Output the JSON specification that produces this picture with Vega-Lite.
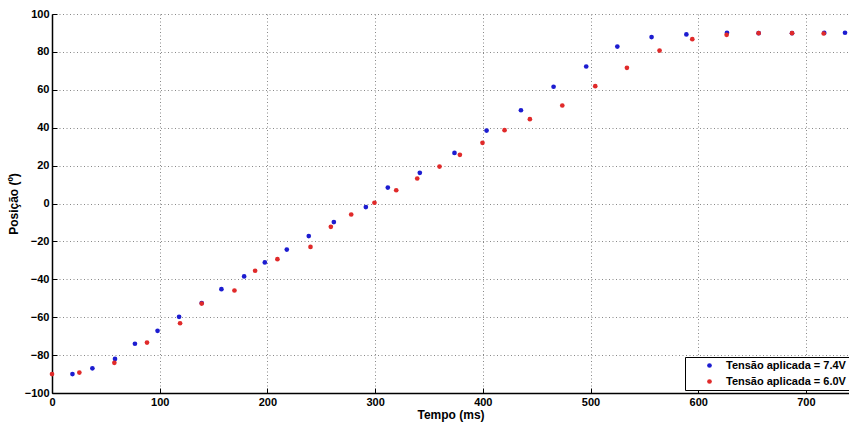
{
  "$schema": "https://vega.github.io/schema/vega-lite/v6.json",
  "width": 797,
  "height": 379,
  "autosize": "none",
  "padding": {"left": 52, "top": 14, "right": 0, "bottom": 30},
  "background": "white",
  "config": {
    "view": {"stroke": null},
    "font": "Liberation Sans"
  },
  "data": {
    "values": [
      {"serie": "Tensão aplicada = 7.4V", "tempo": 19, "posicao": -90},
      {"serie": "Tensão aplicada = 7.4V", "tempo": 37.5, "posicao": -87},
      {"serie": "Tensão aplicada = 7.4V", "tempo": 58.5, "posicao": -82},
      {"serie": "Tensão aplicada = 7.4V", "tempo": 77, "posicao": -74},
      {"serie": "Tensão aplicada = 7.4V", "tempo": 98, "posicao": -67.2},
      {"serie": "Tensão aplicada = 7.4V", "tempo": 118, "posicao": -59.8},
      {"serie": "Tensão aplicada = 7.4V", "tempo": 139, "posicao": -52.5},
      {"serie": "Tensão aplicada = 7.4V", "tempo": 157.3, "posicao": -45.2},
      {"serie": "Tensão aplicada = 7.4V", "tempo": 178.4, "posicao": -38.5},
      {"serie": "Tensão aplicada = 7.4V", "tempo": 197.6, "posicao": -31.1},
      {"serie": "Tensão aplicada = 7.4V", "tempo": 218, "posicao": -24.3},
      {"serie": "Tensão aplicada = 7.4V", "tempo": 238.4, "posicao": -17.2},
      {"serie": "Tensão aplicada = 7.4V", "tempo": 261.7, "posicao": -9.8},
      {"serie": "Tensão aplicada = 7.4V", "tempo": 291.4, "posicao": -1.9},
      {"serie": "Tensão aplicada = 7.4V", "tempo": 311.8, "posicao": 8.4},
      {"serie": "Tensão aplicada = 7.4V", "tempo": 341.5, "posicao": 16.2},
      {"serie": "Tensão aplicada = 7.4V", "tempo": 373.7, "posicao": 26.7},
      {"serie": "Tensão aplicada = 7.4V", "tempo": 403.5, "posicao": 38.5},
      {"serie": "Tensão aplicada = 7.4V", "tempo": 435.4, "posicao": 49.2},
      {"serie": "Tensão aplicada = 7.4V", "tempo": 465.7, "posicao": 61.6},
      {"serie": "Tensão aplicada = 7.4V", "tempo": 496, "posicao": 72.3},
      {"serie": "Tensão aplicada = 7.4V", "tempo": 524.9, "posicao": 82.8},
      {"serie": "Tensão aplicada = 7.4V", "tempo": 556.7, "posicao": 87.8},
      {"serie": "Tensão aplicada = 7.4V", "tempo": 589, "posicao": 89.2},
      {"serie": "Tensão aplicada = 7.4V", "tempo": 626.7, "posicao": 90.1},
      {"serie": "Tensão aplicada = 7.4V", "tempo": 656.1, "posicao": 89.9},
      {"serie": "Tensão aplicada = 7.4V", "tempo": 687.1, "posicao": 89.9},
      {"serie": "Tensão aplicada = 7.4V", "tempo": 717, "posicao": 90},
      {"serie": "Tensão aplicada = 7.4V", "tempo": 736.3, "posicao": 90.1},
      {"serie": "Tensão aplicada = 6.0V", "tempo": 0, "posicao": -90},
      {"serie": "Tensão aplicada = 6.0V", "tempo": 25.4, "posicao": -89.2},
      {"serie": "Tensão aplicada = 6.0V", "tempo": 57.9, "posicao": -84.1},
      {"serie": "Tensão aplicada = 6.0V", "tempo": 88.2, "posicao": -73.4},
      {"serie": "Tensão aplicada = 6.0V", "tempo": 118.9, "posicao": -63.2},
      {"serie": "Tensão aplicada = 6.0V", "tempo": 139, "posicao": -52.8},
      {"serie": "Tensão aplicada = 6.0V", "tempo": 169.4, "posicao": -45.9},
      {"serie": "Tensão aplicada = 6.0V", "tempo": 188.6, "posicao": -35.5},
      {"serie": "Tensão aplicada = 6.0V", "tempo": 209.3, "posicao": -29.4},
      {"serie": "Tensão aplicada = 6.0V", "tempo": 240, "posicao": -22.9},
      {"serie": "Tensão aplicada = 6.0V", "tempo": 258.9, "posicao": -12.3},
      {"serie": "Tensão aplicada = 6.0V", "tempo": 277.8, "posicao": -5.8},
      {"serie": "Tensão aplicada = 6.0V", "tempo": 299.4, "posicao": 0.4},
      {"serie": "Tensão aplicada = 6.0V", "tempo": 319.6, "posicao": 7},
      {"serie": "Tensão aplicada = 6.0V", "tempo": 339.1, "posicao": 13.2},
      {"serie": "Tensão aplicada = 6.0V", "tempo": 359.8, "posicao": 19.5},
      {"serie": "Tensão aplicada = 6.0V", "tempo": 378.7, "posicao": 25.7},
      {"serie": "Tensão aplicada = 6.0V", "tempo": 399.7, "posicao": 32},
      {"serie": "Tensão aplicada = 6.0V", "tempo": 420.2, "posicao": 38.7},
      {"serie": "Tensão aplicada = 6.0V", "tempo": 443.7, "posicao": 44.5},
      {"serie": "Tensão aplicada = 6.0V", "tempo": 473.8, "posicao": 51.7},
      {"serie": "Tensão aplicada = 6.0V", "tempo": 504.4, "posicao": 61.9},
      {"serie": "Tensão aplicada = 6.0V", "tempo": 533.8, "posicao": 71.6},
      {"serie": "Tensão aplicada = 6.0V", "tempo": 564.1, "posicao": 80.7},
      {"serie": "Tensão aplicada = 6.0V", "tempo": 594.5, "posicao": 86.7},
      {"serie": "Tensão aplicada = 6.0V", "tempo": 626.4, "posicao": 89},
      {"serie": "Tensão aplicada = 6.0V", "tempo": 656.1, "posicao": 89.9},
      {"serie": "Tensão aplicada = 6.0V", "tempo": 687.1, "posicao": 89.9},
      {"serie": "Tensão aplicada = 6.0V", "tempo": 716.5, "posicao": 89.7}
    ]
  },
  "mark": {"type": "circle", "size": 22, "opacity": 1},
  "encoding": {
    "x": {
      "field": "tempo",
      "type": "quantitative",
      "scale": {"domain": [0, 740], "nice": false, "zero": false},
      "axis": {
        "title": "Tempo (ms)",
        "values": [0, 100, 200, 300, 400, 500, 600, 700],
        "format": "d",
        "grid": true,
        "gridColor": "#888888",
        "gridDash": [1, 2.5],
        "gridWidth": 1,
        "domainColor": "#000000",
        "domainWidth": 1.5,
        "tickColor": "#000000",
        "tickSize": -5,
        "labelPadding": 8,
        "labelFontSize": 11,
        "labelFontWeight": "bold",
        "labelColor": "#000000",
        "labelFlush": false,
        "titleFontSize": 12,
        "titleFontWeight": "bold",
        "titleColor": "#000000",
        "titlePadding": 2
      }
    },
    "y": {
      "field": "posicao",
      "type": "quantitative",
      "scale": {"domain": [-100, 100], "nice": false, "zero": false},
      "axis": {
        "title": "Posição (º)",
        "values": [-100, -80, -60, -40, -20, 0, 20, 40, 60, 80, 100],
        "grid": true,
        "gridColor": "#888888",
        "gridDash": [1, 2.5],
        "gridWidth": 1,
        "domainColor": "#000000",
        "domainWidth": 1.5,
        "tickColor": "#000000",
        "tickSize": -5,
        "labelPadding": 8,
        "labelFontSize": 11,
        "labelFontWeight": "bold",
        "labelColor": "#000000",
        "labelFlush": false,
        "titleFontSize": 12,
        "titleFontWeight": "bold",
        "titleColor": "#000000",
        "titlePadding": 4
      }
    },
    "color": {
      "field": "serie",
      "type": "nominal",
      "scale": {
        "domain": ["Tensão aplicada = 7.4V", "Tensão aplicada = 6.0V"],
        "range": ["#1c1cd0", "#e02a2a"]
      },
      "legend": {
        "title": null,
        "orient": "none",
        "legendX": 633,
        "legendY": 343,
        "strokeColor": "#000000",
        "fillColor": "#ffffff",
        "padding": 3,
        "symbolType": "circle",
        "symbolSize": 22,
        "symbolOffset": 16,
        "labelOffset": 11,
        "labelFontSize": 11,
        "labelFontWeight": "bold",
        "labelColor": "#000000",
        "rowPadding": 4
      }
    }
  }
}
